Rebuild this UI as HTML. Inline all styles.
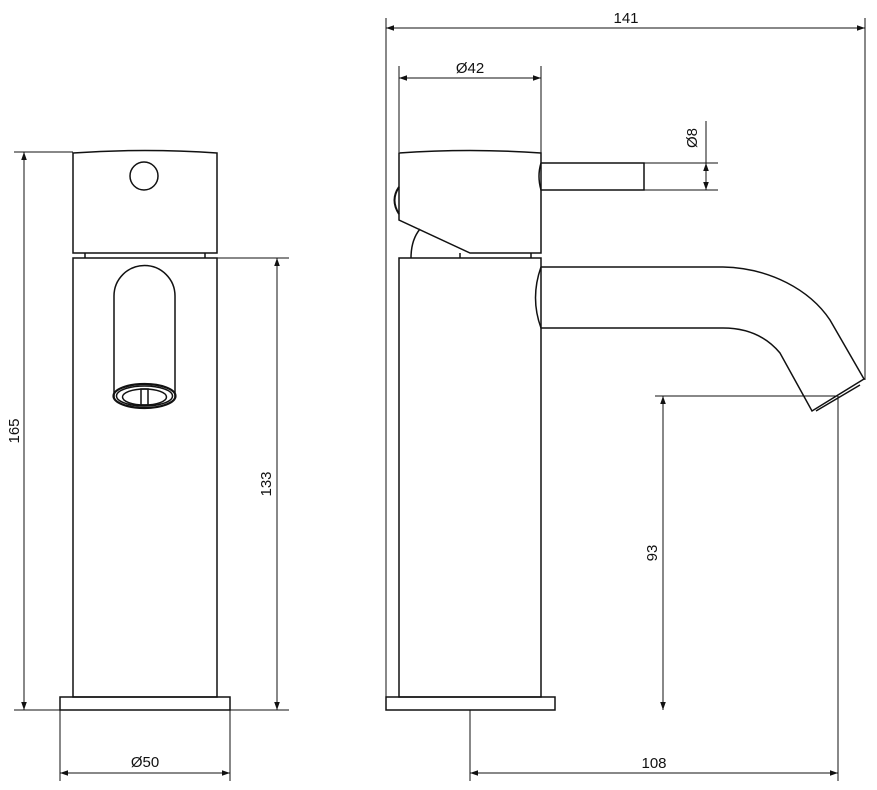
<!DOCTYPE html>
<html><head><meta charset="utf-8"><style>
html,body{margin:0;padding:0;background:#fff;}
svg{display:block;}
text{font-family:"Liberation Sans",sans-serif;font-size:15px;fill:#111;}
</style></head><body>
<svg width="877" height="790" viewBox="0 0 877 790" xmlns="http://www.w3.org/2000/svg">
<defs>
<marker id="a" viewBox="0 0 10 10" refX="10" refY="5" markerWidth="10" markerHeight="8" orient="auto-start-reverse" markerUnits="userSpaceOnUse"><path d="M0,1.5 L10,5 L0,8.5 Z" fill="#111"/></marker>
</defs>
<g fill="none" stroke="#111" stroke-width="1.5">
<!-- LEFT VIEW -->
<path d="M73,253 L73,153 Q145,148 217,153 L217,253 Z"/>
<circle cx="144" cy="176" r="14"/>
<path d="M85,253 V258 M205,253 V258"/>
<rect x="73" y="258" width="144" height="439"/>
<rect x="60" y="697" width="170" height="13"/>
<path d="M114,398 V296 A30.5,30.5 0 0 1 175,296 V398"/>
<ellipse cx="144.5" cy="396" rx="31" ry="12" stroke-width="2.2"/>
<ellipse cx="144.5" cy="396" rx="28" ry="10"/>
<ellipse cx="144.5" cy="397" rx="22" ry="8"/>
<rect x="141" y="389" width="7" height="16"/>
<!-- left dims -->
<g stroke-width="1">
<line x1="14" y1="152" x2="73" y2="152"/>
<line x1="14" y1="710" x2="60" y2="710"/>
<line x1="24" y1="152" x2="24" y2="710" marker-start="url(#a)" marker-end="url(#a)"/>
<line x1="217" y1="258" x2="289" y2="258"/>
<line x1="230" y1="710" x2="289" y2="710"/>
<line x1="277" y1="258" x2="277" y2="710" marker-start="url(#a)" marker-end="url(#a)"/>
<line x1="60" y1="710" x2="60" y2="781"/>
<line x1="230" y1="710" x2="230" y2="781"/>
<line x1="60" y1="773" x2="230" y2="773" marker-start="url(#a)" marker-end="url(#a)"/>
</g>
<!-- RIGHT VIEW -->
<path d="M399,220 L399,153 Q470,148 541,153 L541,253 L470,253 Z"/>
<path d="M399,187 Q390,200 399,214" stroke-width="2"/>
<path d="M411,258 Q411,240 420,229"/>
<path d="M460,253 V258 M531,253 V258"/>
<rect x="399" y="258" width="142" height="439"/>
<rect x="386" y="697" width="169" height="13"/>
<path d="M541,163 H644 V190 H541 Q537,176 541,163"/>
<path d="M541,267 H723 C770,268 810,290 830,320 L864,379 L812,411 L780,353 C765,335 745,328 723,328 H541 Q530,298 541,267"/>
<path d="M816,411 L860,385"/>
<!-- right dims -->
<g stroke-width="1">
<line x1="386" y1="18" x2="386" y2="697"/>
<line x1="865" y1="18" x2="865" y2="380"/>
<line x1="386" y1="28" x2="865" y2="28" marker-start="url(#a)" marker-end="url(#a)"/>
<line x1="399" y1="66" x2="399" y2="152"/>
<line x1="541" y1="66" x2="541" y2="163"/>
<line x1="399" y1="78" x2="541" y2="78" marker-start="url(#a)" marker-end="url(#a)"/>
<line x1="644" y1="163" x2="718" y2="163"/>
<line x1="644" y1="190" x2="718" y2="190"/>
<line x1="706" y1="121" x2="706" y2="163"/>
<line x1="706" y1="163" x2="706" y2="190" marker-start="url(#a)" marker-end="url(#a)"/>
<line x1="655" y1="396" x2="838" y2="396"/>
<line x1="663" y1="396" x2="663" y2="710" marker-start="url(#a)" marker-end="url(#a)"/>
<line x1="470" y1="710" x2="470" y2="781"/>
<line x1="838" y1="396" x2="838" y2="781"/>
<line x1="470" y1="773" x2="838" y2="773" marker-start="url(#a)" marker-end="url(#a)"/>
</g>
</g>
<g stroke="none">
<text x="19" y="431" text-anchor="middle" transform="rotate(-90 19 431)">165</text>
<text x="271" y="484" text-anchor="middle" transform="rotate(-90 271 484)">133</text>
<text x="145" y="767" text-anchor="middle">Ø50</text>
<text x="626" y="23" text-anchor="middle">141</text>
<text x="470" y="73" text-anchor="middle">Ø42</text>
<text x="697" y="138" text-anchor="middle" transform="rotate(-90 697 138)">Ø8</text>
<text x="657" y="553" text-anchor="middle" transform="rotate(-90 657 553)">93</text>
<text x="654" y="768" text-anchor="middle">108</text>
</g>
</svg>
</body></html>
